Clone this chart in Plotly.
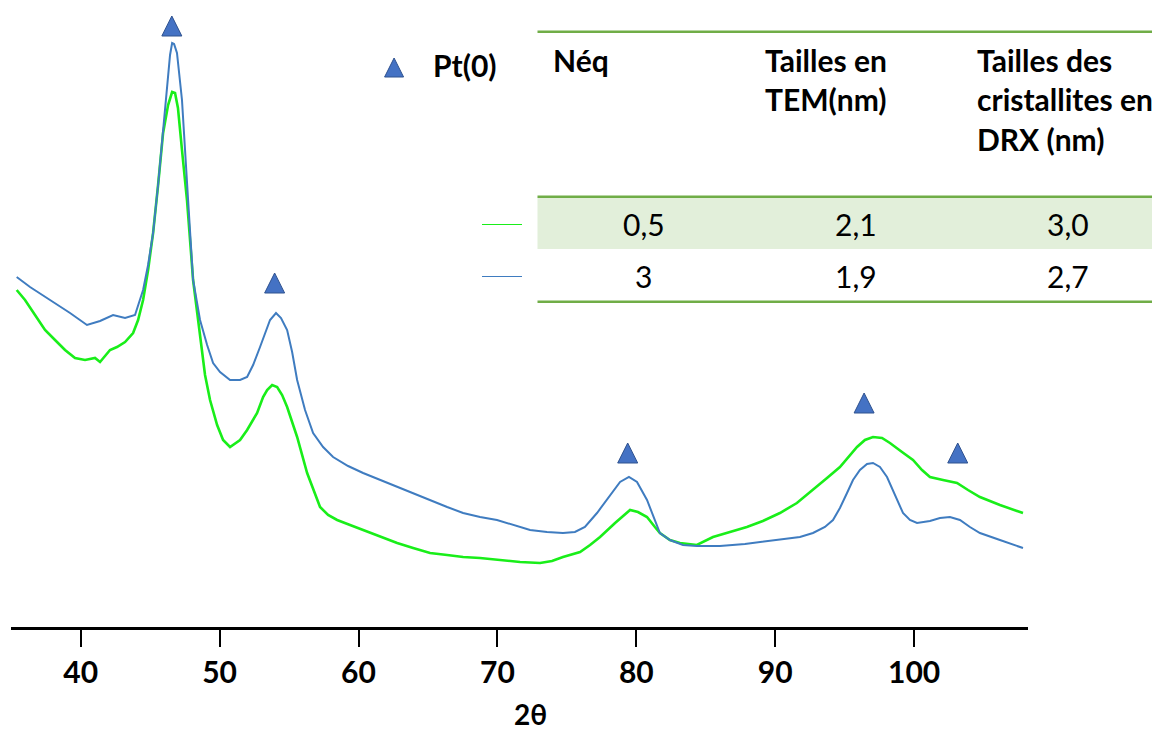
import plotly.graph_objects as go

# ---------------- data ----------------
two_theta_blue = [35.39, 36.35, 37.79, 39.23, 40.45, 41.39, 42.33, 43.19, 43.91, 44.49,
                  44.85, 45.21, 45.57, 45.93, 46.22, 46.43, 46.58, 46.72, 46.93, 47.29,
                  47.73, 48.09, 48.59, 49.10, 49.53, 50.03, 50.75, 51.47, 51.98, 52.41,
                  52.91, 53.27, 53.63, 54.06, 54.42, 54.86, 55.22, 55.58, 56.15, 56.73,
                  57.45, 58.17, 59.25, 60.33, 61.55, 62.78, 63.93, 65.15, 66.38, 67.53,
                  68.75, 69.97, 71.12, 72.35, 73.57, 74.72, 75.58, 76.30, 77.17, 78.11,
                  78.83, 79.47, 80.05, 80.77, 81.34, 81.70, 82.42, 83.36, 84.36, 86.02,
                  87.82, 90.34, 91.78, 92.72, 93.58, 94.16, 94.66, 95.17, 95.60, 96.10,
                  96.61, 97.04, 97.54, 98.05, 98.62, 99.20, 99.70, 100.21, 101.14, 101.86,
                  102.58, 103.30, 104.02, 104.74, 106.18, 107.84]
intensity_blue = [350, 340, 327, 314, 302, 306, 312, 309, 312, 337,
                  362, 394, 442, 494, 534, 572, 584, 583, 574, 527,
                  427, 347, 307, 282, 264, 255, 247, 247, 250, 262,
                  280, 294, 307, 314, 309, 297, 275, 247, 217, 194,
                  180, 170, 161, 154, 147, 140, 134, 127, 120, 114,
                  110, 107, 102, 97, 95, 94, 95, 100, 114, 132,
                  145, 150, 145, 127, 107, 94, 87, 82, 81, 81,
                  83, 87, 90, 94, 100, 107, 119, 134, 147, 157,
                  163, 164, 160, 150, 132, 114, 107, 104, 106, 109,
                  110, 107, 100, 94, 87, 79]

two_theta_green = [35.39, 35.99, 36.71, 37.43, 38.15, 38.87, 39.59, 40.31, 41.03, 41.39,
                   42.11, 42.61, 43.19, 43.77, 44.13, 44.49, 44.85, 45.21, 45.57, 45.93,
                   46.29, 46.58, 46.79, 47.00, 47.29, 47.65, 48.09, 48.59, 48.95, 49.31,
                   49.82, 50.25, 50.75, 51.47, 51.98, 52.70, 53.13, 53.42, 53.78, 54.14,
                   54.50, 54.86, 55.58, 56.30, 56.87, 57.23, 57.81, 58.46, 59.39, 60.33,
                   61.55, 62.78, 63.93, 65.15, 66.38, 67.53, 68.75, 69.97, 71.63, 73.07,
                   73.93, 74.72, 75.95, 76.67, 77.39, 78.47, 79.55, 80.12, 80.77, 81.34,
                   81.70, 82.42, 83.14, 84.36, 85.52, 86.74, 87.96, 89.11, 90.34, 91.56,
                   92.72, 93.73, 94.66, 95.38, 95.89, 96.46, 97.04, 97.69, 98.26, 99.13,
                   99.92, 100.57, 101.14, 102.08, 103.09, 103.88, 104.74, 106.18, 107.84]
intensity_green = [337, 327, 312, 297, 287, 277, 269, 267, 269, 265,
                   277, 280, 285, 294, 307, 327, 357, 394, 442, 494,
                   522, 535, 534, 519, 477, 427, 347, 294, 252, 227,
                   202, 187, 180, 187, 197, 214, 230, 237, 242, 240,
                   232, 220, 190, 154, 132, 120, 112, 107, 102, 97,
                   90, 84, 79, 74, 72, 70, 69, 67, 65, 64,
                   66, 70, 75, 82, 90, 104, 117, 115, 110, 100,
                   94, 87, 84, 82, 90, 95, 100, 106, 114, 124,
                   137, 149, 160, 172, 180, 187, 190, 189, 184, 175,
                   167, 157, 150, 147, 144, 137, 130, 122, 114]

pt_peak_2theta = [46.56, 53.96, 79.38, 96.40, 103.14]
pt_marker_level = [611, 354, 184, 234, 184]
legend_label = "Pt(0)"

tick_values = [40, 50, 60, 70, 80, 90, 100]
x_title = "2θ"

table_headers = [["Néq"], ["Tailles en", "TEM(nm)"], ["Tailles des", "cristallites en", "DRX (nm)"]]
neq_values = ["0,5", "3"]
tem_sizes = ["2,1", "1,9"]
drx_sizes = ["3,0", "2,7"]
row_colors = ["#19EE19", "#3F7CC0"]

# ---------------- styling / layout helpers ----------------
OFF = 8                      # page body offset of the figure div
W, H = 1160 - OFF, 734 - OFF
ML, MR, MT, MB = 11 - OFF, 132, 0, 107
PW = W - ML - MR
PH = H - MT - MB
BASE = 627                   # page y of the x axis line


def xp(px):
    return (px - OFF - ML) / PW


def yp(py):
    return (BASE - py) / PH


FONT = "Lato"
BLUE = "#3F7CC0"
GREEN = "#19EE19"
TRI = "#4472C4"
TRI_EDGE = "#2F528F"
TLINE = "#70AD47"
FS = 30

fig = go.Figure()
fig.add_trace(go.Scatter(x=two_theta_green, y=intensity_green, mode="lines",
                         line=dict(color=GREEN, width=2.6), hoverinfo="skip"))
fig.add_trace(go.Scatter(x=two_theta_blue, y=intensity_blue, mode="lines",
                         line=dict(color=BLUE, width=2), hoverinfo="skip"))
fig.add_trace(go.Scatter(x=pt_peak_2theta, y=pt_marker_level, mode="markers",
                         marker=dict(symbol="arrow-up", size=20, color=TRI,
                                     line=dict(color=TRI_EDGE, width=1)),
                         cliponaxis=False, hoverinfo="skip"))

shapes = []
annotations = []

# legend entry for Pt(0)
fig.add_trace(go.Scatter(x=[62.56], y=[569], mode="markers",
                         marker=dict(symbol="arrow-up", size=19, color=TRI,
                                     line=dict(color=TRI_EDGE, width=1)),
                         cliponaxis=False, hoverinfo="skip"))
annotations.append(dict(x=xp(431), y=yp(65), xref="paper", yref="paper",
                        text=legend_label, showarrow=False, xanchor="left", yanchor="middle",
                        font=dict(family=FONT, size=FS, color="black", weight="bold")))

# table
TL, TR = 537.5, 1173.5
colw = (TR - TL) / 3
shapes.append(dict(type="rect", xref="paper", yref="paper", x0=xp(TL), x1=xp(TR),
                   y0=yp(197.5), y1=yp(249), fillcolor="#E2EFDA", line=dict(width=0), layer="below"))
for ly in [31.7, 196.7, 301.7]:
    shapes.append(dict(type="line", xref="paper", yref="paper", x0=xp(TL), x1=xp(TR),
                       y0=yp(ly), y1=yp(ly), line=dict(color=TLINE, width=2.5)))

header_line_y = [60, 99.5, 139]
for ci, lines in enumerate(table_headers):
    for li, txt in enumerate(lines):
        annotations.append(dict(x=xp(TL + 13.5 + ci * colw), y=yp(header_line_y[li]),
                                xref="paper", yref="paper", text=txt, showarrow=False,
                                xanchor="left", yanchor="middle",
                                font=dict(family=FONT, size=FS, color="black", weight="bold")))

row_y = [224, 276]
for ri in range(2):
    for ci, vals in enumerate([neq_values, tem_sizes, drx_sizes]):
        annotations.append(dict(x=xp(TL + colw * (ci + 0.5)), y=yp(row_y[ri]),
                                xref="paper", yref="paper", text=vals[ri], showarrow=False,
                                xanchor="center", yanchor="middle",
                                font=dict(family=FONT, size=FS, color="black")))
    shapes.append(dict(type="line", xref="paper", yref="paper", x0=xp(482), x1=xp(522),
                       y0=yp(row_y[ri] + 0.5), y1=yp(row_y[ri] + 0.5),
                       line=dict(color=row_colors[ri], width=1.2)))

# axis title
annotations.append(dict(x=xp(530), y=yp(714), xref="paper", yref="paper", text=x_title,
                        showarrow=False, xanchor="center", yanchor="middle",
                        font=dict(family=FONT, size=28, color="black", weight="bold")))

fig.update_layout(width=W, height=H, margin=dict(l=ML, r=MR, t=MT, b=MB),
                  plot_bgcolor="white", paper_bgcolor="white", showlegend=False,
                  shapes=shapes, annotations=annotations)
fig.update_xaxes(range=[34.98, 108.2], showline=True, linecolor="black", linewidth=3,
                 ticks="outside", ticklen=17, tickwidth=2, tickcolor="black",
                 tickvals=tick_values, showgrid=False, zeroline=False,
                 tickfont=dict(family=FONT, size=FS, color="black", weight="bold"))
fig.update_yaxes(range=[0, BASE - OFF], visible=False, showgrid=False, zeroline=False)

fig.write_html("out.html")
